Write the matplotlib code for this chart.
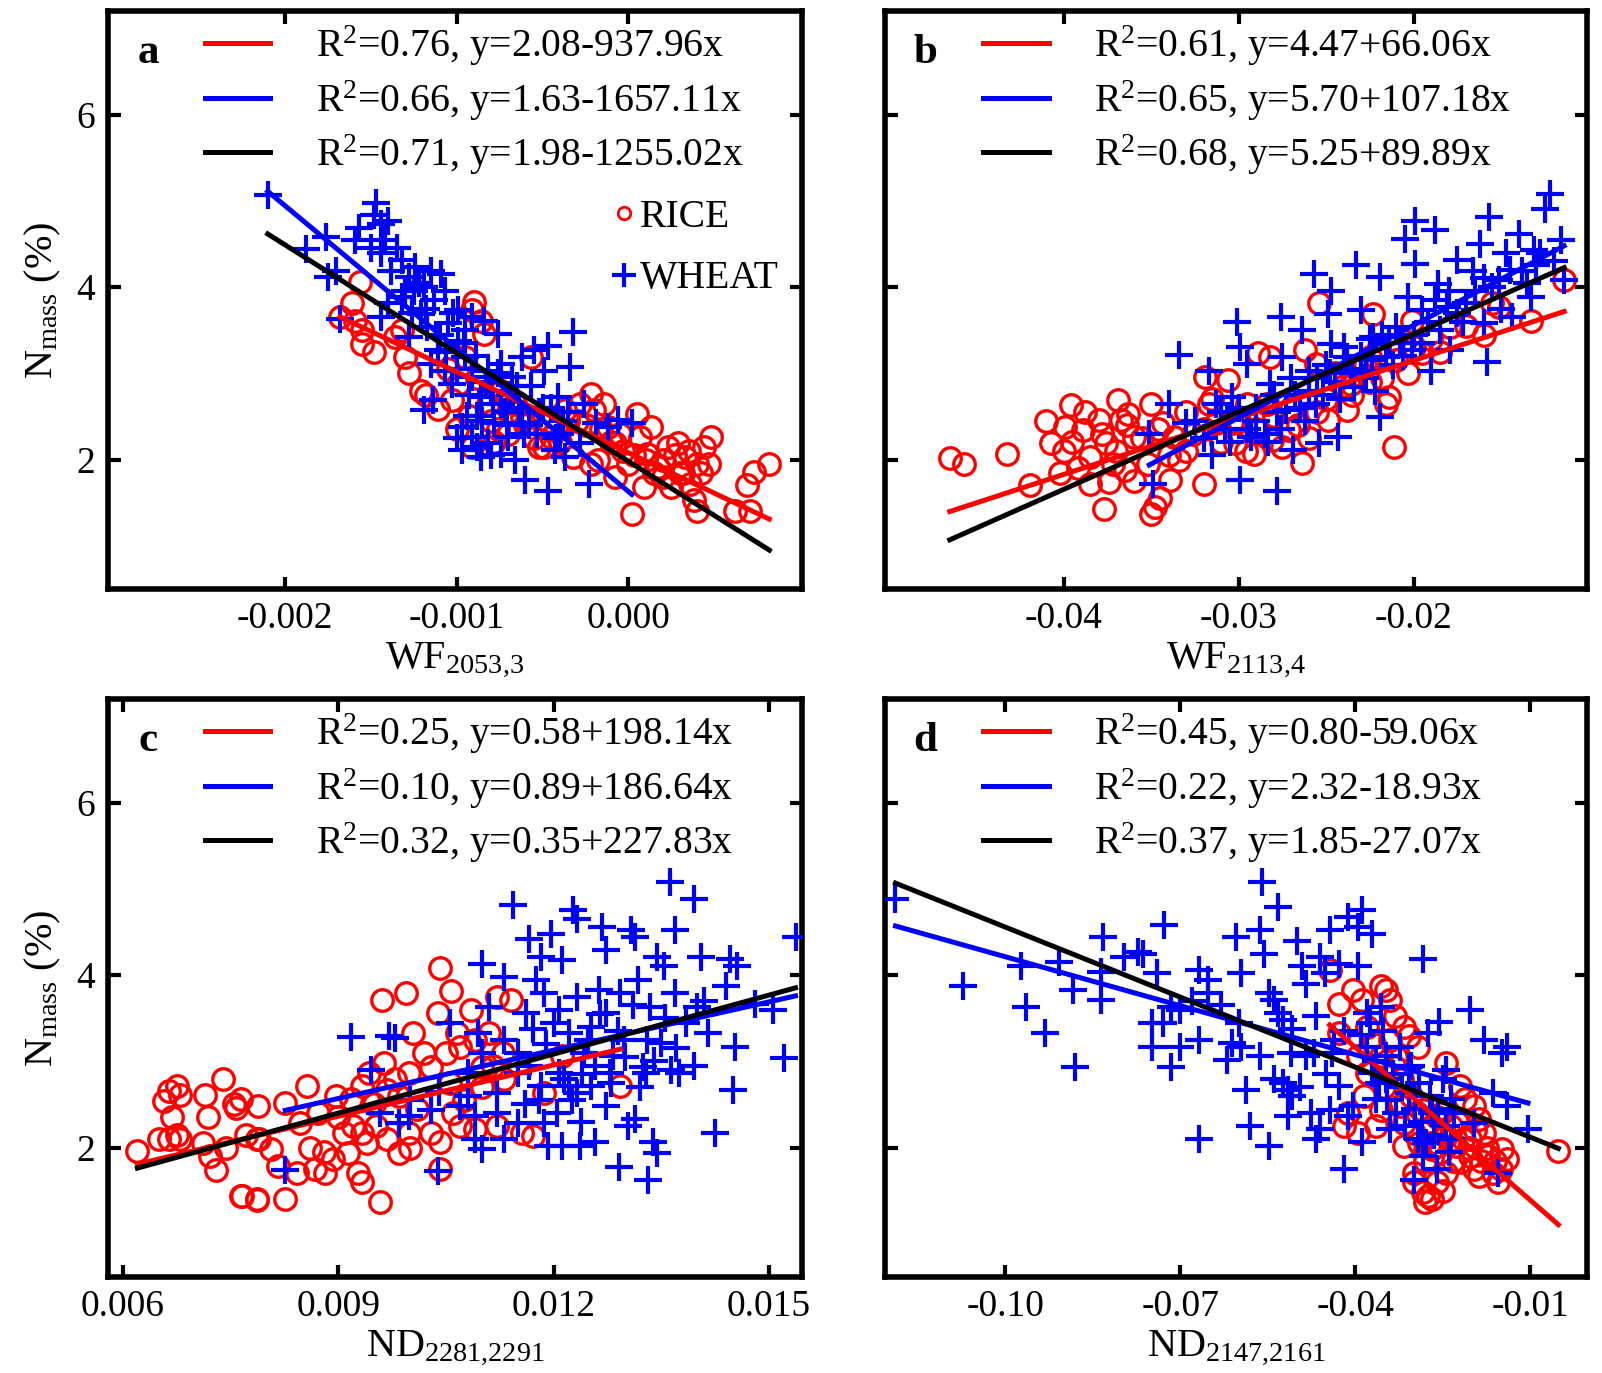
import matplotlib
matplotlib.use("Agg")
import matplotlib.pyplot as plt
from matplotlib.lines import Line2D

plt.rcParams['font.family'] = ['Liberation Serif', 'DejaVu Serif']
plt.rcParams['mathtext.fontset'] = 'custom'
plt.rcParams['mathtext.rm'] = 'Liberation Serif'
plt.rcParams['mathtext.it'] = 'Liberation Serif:italic'
plt.rcParams['mathtext.bf'] = 'Liberation Serif:bold'

RED = '#ff0000'
BLUE = '#0000ff'

# ---- panel a : WF 2053,3 ----
a_rice_x = [-0.00168, -0.00161, -0.00156, -0.00159, -0.00155, -0.00155, -0.00148, -0.00136, -0.00132,
            -0.00130, -0.00128, -0.00121, -0.00111, -0.00103, -0.00099, -0.00095, -0.00090, -0.00091,
            -0.00086, -0.00084, -0.00091, -0.00082, -0.00074, -0.00066, -0.00057, -0.00062, -0.00049,
            -0.00045, -0.00037, -0.00028, -0.00022, -0.00020, -0.00014, -0.00012, -0.00008, -0.00008,
            0.00000, 0.00002, 0.00005, 0.00007, 0.00013, 0.00011, 0.00017, 0.00023, 0.00029, 0.00033,
            0.00036, 0.00038, 0.00040, 0.00044, 0.00047, 0.00040, 0.00048, 0.00062, 0.00071, 0.00069,
            0.00073, 0.00082, 0.00009, 0.00025, -0.00022, -0.00032, -0.00118, -0.00105, -0.00078,
            -0.00070, -0.00052, -0.00040, -0.00030, -0.00018, -0.00005, 0.00020, 0.00030,
            -0.00080, -0.00076, -0.00068, -0.00060, -0.00055, -0.00047, -0.00042, -0.00035, -0.00025,
            -0.00016, -0.00010, -0.00003, 0.00003, 0.00010, 0.00015, 0.00020, 0.00027, 0.00032, 0.00042,
            0.00035, -0.00088, -0.00093, -0.00100]
a_rice_y = [3.65, 3.81, 4.06, 3.61, 3.50, 3.34, 3.25, 3.42, 3.50,
            3.19, 3.00, 2.80, 2.59, 2.69, 2.88, 3.19, 3.83, 3.73,
            3.61, 3.46, 2.15, 2.65, 2.80, 2.65, 3.19, 2.49, 2.15,
            2.26, 2.57, 2.65, 2.76, 2.57, 2.65, 2.38, 2.19, 1.80,
            1.95, 1.37, 2.53, 2.26, 2.38, 2.07, 1.92, 2.15, 2.19, 2.03,
            1.72, 1.53, 1.41, 2.15, 1.95, 1.95, 2.26, 1.41, 1.41, 1.70,
            1.86, 1.95, 1.68, 1.68, 1.95, 2.03, 2.75, 3.05, 2.20,
            2.30, 2.15, 2.20, 2.45, 2.00, 2.30, 2.00, 1.85,
            2.45, 2.35, 2.55, 2.40, 2.25, 2.45, 2.35, 2.45, 2.40,
            2.35, 2.20, 2.10, 2.05, 2.00, 1.85, 1.80, 2.05, 1.85, 1.85,
            2.10, 2.95, 2.50, 2.35]
a_wheat_x = [-0.00210, -0.00188, -0.00176, -0.00175, -0.00170, -0.00168, -0.00159, -0.00157, -0.00148,
             -0.00147, -0.00144, -0.00140, -0.00142, -0.00144, -0.00138, -0.00132, -0.00128, -0.00124,
             -0.00119, -0.00115, -0.00109, -0.00107, -0.00144, -0.00140, -0.00132, -0.00128, -0.00121,
             -0.00117, -0.00119, -0.00114, -0.00115, -0.00111, -0.00105, -0.00099, -0.00095, -0.00091,
             -0.00084, -0.00076, -0.00095, -0.00091, -0.00097, -0.00097, -0.00091, -0.00086, -0.00082,
             -0.00074, -0.00070, -0.00066, -0.00078, -0.00074, -0.00068, -0.00062, -0.00055, -0.00047,
             -0.00032, -0.00034, -0.00049, -0.00060, -0.00047, -0.00023, -0.00041, -0.00026, -0.00062,
             -0.00053, -0.00043, -0.00037, -0.00028, -0.00019, -0.00012, -0.00006, 0.00002, -0.00086,
             -0.00103, -0.00107, -0.00082, -0.00074, -0.00099, -0.00088, -0.00080, -0.00072, -0.00065,
             -0.00058, -0.00050, -0.00040, -0.00035,
             -0.00130, -0.00126, -0.00122, -0.00118, -0.00113, -0.00110, -0.00106, -0.00102, -0.00100,
             -0.00096, -0.00093, -0.00089, -0.00085, -0.00083, -0.00079, -0.00076, -0.00071, -0.00069,
             -0.00064, -0.00061, -0.00057, -0.00052, -0.00045, -0.00042, -0.00038, -0.00100, -0.00094,
             -0.00088, -0.00080, -0.00150, -0.00135, -0.00125]
a_wheat_y = [5.07, 4.44, 4.58, 4.12, 4.19, 3.63, 4.54, 4.68, 4.83,
             4.97, 4.73, 4.77, 4.54, 4.39, 4.19, 4.31, 4.12, 4.23,
             4.00, 4.19, 4.15, 3.96, 3.65, 3.81, 3.88, 3.42, 3.69,
             3.54, 2.57, 2.69, 3.11, 3.27, 3.58, 3.73, 3.50, 3.65,
             3.61, 3.46, 3.19, 2.96, 2.38, 2.11, 2.26, 2.03, 2.19,
             2.07, 2.26, 1.99, 2.42, 2.65, 2.96, 3.19, 3.27, 3.32,
             3.48, 3.07, 3.03, 1.76, 1.64, 1.72, 2.73, 2.65, 2.42,
             2.30, 2.11, 2.03, 2.19, 2.42, 2.38, 2.46, 2.42, 2.73,
             2.88, 3.03, 3.03, 3.11, 3.38, 2.50, 2.80, 2.55, 2.85,
             2.40, 2.60, 2.30, 2.55,
             3.95, 3.70, 4.05, 3.75, 3.85, 3.45, 3.25, 3.70, 3.05,
             3.35, 2.75, 3.20, 2.45, 2.90, 2.65, 3.00, 2.40, 2.75,
             2.60, 2.30, 2.85, 2.55, 2.60, 2.25, 2.45, 2.25, 2.50,
             2.15, 2.05, 4.45, 4.45, 3.95]
a_r2 = [0.76, 0.66, 0.71]
a_b0 = [2.08, 1.63, 1.98]
a_b1 = [-937.96, -1657.11, -1255.02]

# ---- panel b : WF 2113,4 ----
b_rice_x = [-0.0465, -0.0457, -0.0432, -0.0419, -0.0407, -0.0396, -0.0399, -0.0402, -0.0389, -0.0385,
            -0.0380, -0.0376, -0.0369, -0.0367, -0.0363, -0.0377, -0.0385, -0.0374, -0.0365, -0.0360,
            -0.0350, -0.0350, -0.0348, -0.0345, -0.0339, -0.0334, -0.0337, -0.0343, -0.0326, -0.0320,
            -0.0319, -0.0317, -0.0306, -0.0313, -0.0302, -0.0295, -0.0289, -0.0282, -0.0291, -0.0281,
            -0.0271, -0.0264, -0.0262, -0.0256, -0.0254, -0.0249, -0.0238, -0.0236, -0.0225, -0.0223,
            -0.0216, -0.0214, -0.0211, -0.0203, -0.0201, -0.0195, -0.0179, -0.0155, -0.0151, -0.0133,
            -0.0114, -0.0304, -0.0330, -0.0320, -0.0310, -0.0300, -0.0290, -0.0280, -0.0275, -0.0270,
            -0.0260, -0.0250, -0.0245, -0.0240, -0.0232, -0.0225, -0.0220, -0.0210, -0.0200, -0.0190,
            -0.0185, -0.0170, -0.0160, -0.0410, -0.0400, -0.0392, -0.0370, -0.0360, -0.0355, -0.0340,
            -0.0395, -0.0388, -0.0378, -0.0372, -0.0364, -0.0352, -0.0346, -0.0330, -0.0315, -0.0296,
            -0.0284, -0.0266, -0.0255, -0.0235, -0.0228, -0.0218]
b_rice_y = [2.02, 1.95, 2.07, 1.70, 2.19, 2.63, 2.38, 1.84, 2.34, 2.03,
            2.46, 2.19, 2.69, 2.46, 2.53, 1.43, 1.72, 1.74, 1.88, 2.26,
            2.65, 1.37, 1.45, 1.56, 1.76, 1.99, 2.26, 2.42, 2.30, 1.72,
            2.96, 2.65, 2.92, 2.42, 2.19, 2.65, 3.23, 3.19, 2.07, 2.23,
            2.34, 1.96, 3.27, 3.11, 3.81, 2.46, 2.57, 2.88, 3.19, 3.69,
            2.65, 2.73, 2.15, 3.00, 3.61, 3.23, 3.54, 3.81, 3.77, 3.61,
            4.08, 2.42, 2.10, 2.35, 2.20, 2.45, 2.35, 2.50, 2.15, 2.60,
            2.25, 2.70, 3.00, 2.85, 3.05, 2.90, 3.30, 3.15, 3.30, 3.40,
            3.25, 3.55, 3.45, 2.45, 2.10, 1.90, 2.10, 1.75, 2.25, 2.05,
            2.20, 2.55, 2.30, 1.95, 2.40, 1.95, 2.35, 2.55, 2.70, 2.10,
            2.65, 2.40, 2.55, 2.75, 3.10, 2.95]
b_wheat_x = [-0.0334, -0.0351, -0.0349, -0.0340, -0.0330, -0.0317, -0.0313, -0.0304, -0.0301, -0.0299,
             -0.0299, -0.0295, -0.0293, -0.0282, -0.0278, -0.0276, -0.0275, -0.0273, -0.0269, -0.0264,
             -0.0260, -0.0257, -0.0256, -0.0254, -0.0249, -0.0247, -0.0247, -0.0243, -0.0238, -0.0234,
             -0.0233, -0.0230, -0.0227, -0.0223, -0.0219, -0.0219, -0.0216, -0.0210, -0.0205, -0.0203,
             -0.0201, -0.0199, -0.0199, -0.0195, -0.0190, -0.0188, -0.0186, -0.0181, -0.0179, -0.0175,
             -0.0170, -0.0166, -0.0162, -0.0160, -0.0158, -0.0157, -0.0151, -0.0147, -0.0144, -0.0140,
             -0.0138, -0.0133, -0.0131, -0.0125, -0.0122, -0.0116, -0.0114, -0.0310, -0.0305, -0.0290,
             -0.0285, -0.0280, -0.0270, -0.0265, -0.0260, -0.0255, -0.0250, -0.0245, -0.0240, -0.0235,
             -0.0230, -0.0225, -0.0222, -0.0218, -0.0212, -0.0208, -0.0200, -0.0192, -0.0185, -0.0175,
             -0.0165, -0.0155, -0.0145, -0.0130, -0.0325, -0.0300, -0.0295, -0.0278,
             -0.0320, -0.0315, -0.0308, -0.0290, -0.0283, -0.0276, -0.0268, -0.0262, -0.0252, -0.0248,
             -0.0242, -0.0236, -0.0228, -0.0224, -0.0214, -0.0206, -0.0196, -0.0188, -0.0180, -0.0172,
             -0.0160, -0.0150, -0.0135, -0.0128, -0.0120]
b_wheat_y = [3.21, 2.30, 1.72, 2.65, 2.42, 3.03, 2.65, 2.73, 3.59, 1.76,
             3.30, 3.11, 2.26, 2.88, 1.64, 3.65, 3.19, 2.57, 2.11, 3.50,
             3.03, 4.15, 2.65, 2.19, 3.69, 3.34, 3.96, 2.26, 3.19, 2.84,
             4.25, 3.73, 3.03, 3.42, 4.12, 2.49, 3.19, 3.54, 4.56, 3.88,
             3.27, 4.77, 4.27, 3.73, 3.03, 4.66, 4.04, 3.77, 3.27, 4.31,
             3.81, 4.19, 4.50, 3.58, 3.13, 4.81, 4.08, 4.39, 3.65, 4.62,
             4.19, 3.88, 4.43, 4.91, 5.08, 4.54, 4.08, 2.55, 2.20, 2.45,
             2.30, 2.75, 2.95, 2.60, 2.80, 2.95, 3.10, 2.90, 3.30, 3.00,
             3.20, 3.40, 2.80, 3.45, 3.10, 3.35, 3.45, 3.60, 3.50, 3.70,
             3.95, 4.00, 4.20, 4.25, 2.45, 2.60, 2.35, 2.55,
             2.25, 2.05, 2.35, 2.60, 2.20, 2.35, 2.75, 2.45, 2.75, 3.00,
             2.70, 3.05, 2.95, 3.15, 3.35, 3.20, 3.35, 3.85, 3.95, 3.60,
             4.10, 3.75, 4.05, 4.40, 4.30]
b_r2 = [0.61, 0.65, 0.68]
b_b0 = [4.47, 5.70, 5.25]
b_b1 = [66.06, 107.18, 89.89]

# ---- panel c : ND 2281,2291 ----
c_rice_x = [0.01042, 0.00961, 0.00994, 0.01057, 0.01039, 0.01085, 0.01121, 0.01141, 0.01065, 0.01004,
            0.01019, 0.00963, 0.00943, 0.00857, 0.00826, 0.00788, 0.00765, 0.00897, 0.00918, 0.00933,
            0.00968, 0.00979, 0.00999, 0.01029, 0.01050, 0.01070, 0.01090, 0.01110, 0.00786, 0.00806,
            0.00816, 0.00826, 0.00786, 0.00766, 0.00842, 0.00867, 0.00882, 0.00892, 0.00913, 0.00928,
            0.00933, 0.00958, 0.00908, 0.00933, 0.00953, 0.00968, 0.00984, 0.00999, 0.01029, 0.01042,
            0.01042, 0.01070, 0.01090, 0.01121, 0.01156, 0.01171, 0.01293, 0.01187, 0.01212, 0.01100,
            0.01131, 0.00872, 0.00847, 0.00620, 0.00657, 0.00664, 0.00675, 0.00679, 0.00668, 0.00664,
            0.00679, 0.00650, 0.00675, 0.00714, 0.00718, 0.00711, 0.00721, 0.00729, 0.00739, 0.00754,
            0.00757, 0.00743, 0.00764, 0.00786, 0.00789, 0.00771,
            0.00900, 0.00950, 0.00985, 0.01010, 0.01055, 0.01075, 0.01100, 0.00860, 0.00880, 0.00940,
            0.01000, 0.01060, 0.01115, 0.01130, 0.00920]
c_rice_y = [4.08, 3.71, 3.79, 3.81, 3.56, 3.60, 3.75, 3.71, 3.33, 3.33,
            3.10, 2.98, 2.87, 2.71, 2.52, 2.48, 2.56, 2.60, 2.56, 2.71,
            2.67, 2.79, 2.87, 2.94, 3.10, 3.17, 3.25, 3.33, 2.10, 1.98,
            1.79, 1.40, 1.40, 1.44, 1.71, 1.75, 1.71, 1.87, 1.94, 1.71,
            1.60, 1.37, 2.17, 2.17, 2.25, 2.10, 1.94, 2.17, 2.17, 2.06,
            1.75, 2.25, 2.21, 2.25, 2.17, 2.13, 2.71, 2.63, 3.06, 2.94,
            2.79, 2.40, 2.29, 1.96, 2.54, 2.66, 2.71, 2.61, 2.36, 2.10,
            2.10, 2.10, 2.15, 2.61, 2.36, 2.05, 1.90, 1.74, 2.79, 2.51,
            2.46, 2.00, 1.44, 1.39, 2.10, 2.15,
            2.35, 2.50, 2.60, 2.45, 2.75, 2.55, 2.70, 2.00, 1.95, 2.05,
            2.00, 2.40, 2.95, 3.10, 2.25]
c_wheat_x = [0.00918, 0.00971, 0.00979, 0.00946, 0.00826, 0.01039, 0.01143, 0.01100, 0.01131, 0.01227,
             0.01233, 0.01197, 0.01166, 0.01268, 0.01308, 0.01313, 0.01369, 0.01362, 0.01395, 0.01537,
             0.01273, 0.01212, 0.01182, 0.01344, 0.01354, 0.01405, 0.01446, 0.01456, 0.01318, 0.01263,
             0.01233, 0.01176, 0.01187, 0.01293, 0.01369, 0.01440, 0.01481, 0.01506, 0.01400, 0.01334,
             0.01273, 0.01207, 0.01161, 0.01110, 0.01055, 0.01095, 0.01131, 0.01171, 0.01222, 0.01252,
             0.01298, 0.01349, 0.01415, 0.01453, 0.01521, 0.01450, 0.01425, 0.01374, 0.01324, 0.01283,
             0.01242, 0.01207, 0.01182, 0.01151, 0.01121, 0.01100, 0.01080, 0.01070, 0.01029, 0.00999,
             0.00984, 0.00958, 0.01090, 0.01121, 0.01151, 0.01187, 0.01222, 0.01233, 0.01252, 0.01273,
             0.01313, 0.01329, 0.01364, 0.01090, 0.01100, 0.01131, 0.01192, 0.01212, 0.01237, 0.01257,
             0.01338, 0.01344, 0.01291, 0.01331, 0.01303, 0.01278,
             0.01150, 0.01165, 0.01190, 0.01200, 0.01215, 0.01225, 0.01240, 0.01248, 0.01258, 0.01265,
             0.01280, 0.01290, 0.01300, 0.01310, 0.01320, 0.01330, 0.01340, 0.01355, 0.01370, 0.01385,
             0.01395, 0.01410, 0.01180, 0.01205, 0.01238, 0.01160, 0.01080, 0.01040, 0.01000]
c_wheat_y = [3.28, 3.29, 3.27, 2.90, 1.74, 1.73, 4.81, 4.13, 3.98, 4.75,
             4.65, 4.48, 4.42, 4.56, 4.52, 4.44, 4.52, 5.08, 4.88, 4.44,
             4.29, 4.17, 4.21, 4.21, 4.10, 4.21, 4.19, 4.10, 3.94, 3.83,
             3.75, 3.94, 3.79, 3.79, 3.79, 3.87, 3.67, 3.60, 3.63, 3.63,
             3.56, 3.60, 3.56, 3.63, 3.44, 3.33, 3.25, 3.37, 3.33, 3.40,
             3.25, 3.21, 3.33, 3.17, 3.04, 2.67, 2.17, 2.87, 2.94, 3.06,
             3.10, 2.87, 2.71, 2.87, 2.63, 3.10, 2.87, 2.48, 2.44, 2.37,
             2.29, 2.40, 2.37, 2.40, 2.29, 2.29, 2.71, 2.63, 2.71, 2.48,
             2.33, 2.87, 2.90, 2.10, 1.98, 2.10, 2.02, 2.02, 2.02, 2.06,
             2.06, 1.94, 1.77, 1.63, 2.25, 2.87,
             3.10, 2.95, 3.20, 3.45, 2.80, 2.55, 2.85, 3.25, 2.95, 3.55,
             2.75, 3.35, 3.05, 3.65, 2.70, 3.25, 3.00, 3.50, 3.15, 3.45,
             2.95, 3.70, 2.55, 2.40, 2.30, 2.50, 2.60, 2.65, 2.55]
c_r2 = [0.25, 0.10, 0.32]
c_b0 = [0.58, 0.89, 0.35]
c_b1 = [198.14, 186.64, 227.83]

# ---- panel d : ND 2147,2161 ----
d_rice_x = [-0.0348, -0.0356, -0.0340, -0.0404, -0.0428, -0.0388, -0.0332, -0.0444, -0.0428, -0.0380,
            -0.0316, -0.0308, -0.0396, -0.0380, -0.0356, -0.0332, -0.0292, -0.0244, -0.0412, -0.0420,
            -0.0396, -0.0364, -0.0356, -0.0324, -0.0316, -0.0300, -0.0284, -0.0268, -0.0252, -0.0236,
            -0.0220, -0.0212, -0.0196, -0.0188, -0.0180, -0.0204, -0.0228, -0.0268, -0.0316, -0.0300,
            -0.0300, -0.0284, -0.0280, -0.0268, -0.0276, -0.0244, -0.0220, -0.0196, -0.0188, -0.0164,
            -0.0156, -0.0172, -0.0148, -0.0140, -0.0052, -0.0204, -0.0244,
            -0.0340, -0.0330, -0.0320, -0.0305, -0.0295, -0.0290, -0.0280, -0.0272, -0.0260, -0.0255,
            -0.0248, -0.0232, -0.0225, -0.0215, -0.0205, -0.0195, -0.0185, -0.0175, -0.0160, -0.0150,
            -0.0260, -0.0250, -0.0368, -0.0350, -0.0385]
d_rice_y = [3.83, 3.87, 3.71, 3.83, 3.67, 3.71, 3.52, 4.06, 3.33, 3.40,
            3.40, 3.29, 3.06, 2.87, 3.06, 2.94, 3.17, 2.98, 2.40, 2.25,
            2.17, 2.25, 2.44, 2.48, 2.29, 2.17, 2.44, 2.25, 2.40, 2.25,
            2.71, 2.56, 2.48, 2.33, 2.17, 2.10, 2.02, 1.98, 2.02, 1.71,
            1.60, 1.48, 1.37, 1.40, 1.44, 1.71, 1.83, 1.75, 1.67, 1.71,
            1.60, 1.90, 1.98, 1.87, 1.96, 1.90, 2.13,
            3.25, 3.05, 2.80, 2.60, 2.40, 2.05, 1.85, 2.05, 2.35, 1.95,
            2.15, 1.85, 2.30, 2.10, 2.00, 2.20, 1.85, 2.00, 1.85, 1.75,
            1.60, 1.50, 3.20, 2.70, 2.60]
d_wheat_x = [-0.1188, -0.1072, -0.0972, -0.0964, -0.0932, -0.0908, -0.0880, -0.0884, -0.0836, -0.0832,
             -0.0836, -0.0796, -0.0772, -0.0764, -0.0748, -0.0740, -0.0728, -0.0748, -0.0716, -0.0716,
             -0.0700, -0.0668, -0.0668, -0.0652, -0.0652, -0.0668, -0.0620, -0.0612, -0.0604, -0.0596,
             -0.0596, -0.0588, -0.0580, -0.0564, -0.0560, -0.0556, -0.0564, -0.0548, -0.0540, -0.0532,
             -0.0532, -0.0524, -0.0548, -0.0524, -0.0516, -0.0508, -0.0516, -0.0508, -0.0500, -0.0492,
             -0.0484, -0.0484, -0.0476, -0.0468, -0.0468, -0.0460, -0.0452, -0.0444, -0.0436, -0.0428,
             -0.0428, -0.0420, -0.0412, -0.0404, -0.0396, -0.0396, -0.0388, -0.0388, -0.0372, -0.0380,
             -0.0380, -0.0372, -0.0364, -0.0356, -0.0348, -0.0340, -0.0324, -0.0308, -0.0300, -0.0292,
             -0.0284, -0.0276, -0.0268, -0.0260, -0.0256, -0.0244, -0.0236, -0.0204, -0.0180, -0.0164,
             -0.0156, -0.0148, -0.0140, -0.0140, -0.0104, -0.0284, -0.0236, -0.0196, -0.0308, -0.0348,
             -0.0412, -0.0460, -0.0444,
             -0.0390, -0.0375, -0.0365, -0.0360, -0.0352, -0.0345, -0.0335, -0.0330, -0.0320, -0.0315,
             -0.0305, -0.0298, -0.0290, -0.0285, -0.0278, -0.0272, -0.0265, -0.0258, -0.0250, -0.0245,
             -0.0240, -0.0230, -0.0420, -0.0440, -0.0450, -0.0470, -0.0495, -0.0510, -0.0540, -0.0600,
             -0.0630, -0.0680, -0.0700, -0.0730]
d_wheat_y = [4.88, 3.87, 4.10, 3.63, 3.33, 4.15, 2.94, 3.83, 3.71, 4.44,
             4.04, 4.21, 4.27, 4.25, 3.44, 4.02, 4.58, 3.17, 3.63, 2.94,
             3.17, 3.25, 4.06, 3.94, 3.79, 2.10, 3.02, 3.21, 4.44, 4.02,
             3.17, 2.67, 2.25, 4.52, 5.08, 4.25, 3.06, 3.79, 3.71, 4.79,
             3.56, 3.48, 2.02, 2.75, 2.67, 2.60, 2.37, 3.37, 4.40, 4.10,
             3.90, 3.06, 2.40, 2.10, 3.52, 4.21, 4.02, 4.52, 3.25, 2.71,
             4.13, 1.75, 4.67, 2.48, 4.56, 4.10, 4.75, 2.06, 4.48, 3.56,
             3.17, 2.87, 2.56, 3.63, 3.06, 2.21, 3.17, 2.63, 1.63, 2.10,
             4.19, 3.33, 2.40, 1.75, 3.46, 2.90, 2.56, 3.60, 3.25, 2.63,
             1.71, 3.10, 3.17, 2.48, 2.21, 1.90, 2.10, 2.29, 2.94, 2.79,
             2.37, 2.21, 2.44,
             3.30, 3.45, 3.00, 2.75, 3.35, 2.55, 2.85, 2.40, 2.70, 2.25,
             2.95, 2.45, 2.75, 2.30, 2.05, 2.60, 2.15, 2.45, 2.80, 2.25,
             1.95, 2.40, 3.35, 3.10, 2.85, 3.10, 2.70, 3.10, 2.80, 3.45,
             3.65, 3.70, 3.60, 3.45]
d_r2 = [0.45, 0.22, 0.37]
d_b0 = [0.80, 2.32, 1.85]
d_b1 = [-59.06, -18.93, -27.07]

panels = [
    dict(pos=[0.0674, 0.5710, 0.4332, 0.4210], rx=a_rice_x, ry=a_rice_y, wx=a_wheat_x, wy=a_wheat_y,
         r2=a_r2, b0=a_b0, b1=a_b1, letter='a', xlabel='WF$_{\\mathrm{2053{,}3}}$',
         xlim=(-0.00303, 0.00101), xticks=[-0.002, -0.001, 0.0], xtl=['-0.002', '-0.001', '0.000'], ylab=True),
    dict(pos=[0.5524, 0.5710, 0.4382, 0.4210], rx=b_rice_x, ry=b_rice_y, wx=b_wheat_x, wy=b_wheat_y,
         r2=b_r2, b0=b_b0, b1=b_b1, letter='b', xlabel='WF$_{\\mathrm{2113{,}4}}$',
         xlim=(-0.0502, -0.0101), xticks=[-0.04, -0.03, -0.02], xtl=['-0.04', '-0.03', '-0.02'], ylab=False),
    dict(pos=[0.0674, 0.0699, 0.4332, 0.4210], rx=c_rice_x, ry=c_rice_y, wx=c_wheat_x, wy=c_wheat_y,
         r2=c_r2, b0=c_b0, b1=c_b1, letter='c', xlabel='ND$_{\\mathrm{2281{,}2291}}$',
         xlim=(0.00579, 0.01546), xticks=[0.006, 0.009, 0.012, 0.015],
         xtl=['0.006', '0.009', '0.012', '0.015'], ylab=True),
    dict(pos=[0.5524, 0.0699, 0.4382, 0.4210], rx=d_rice_x, ry=d_rice_y, wx=d_wheat_x, wy=d_wheat_y,
         r2=d_r2, b0=d_b0, b1=d_b1, letter='d', xlabel='ND$_{\\mathrm{2147{,}2161}}$',
         xlim=(-0.1206, -0.0003), xticks=[-0.10, -0.07, -0.04, -0.01],
         xtl=['-0.10', '-0.07', '-0.04', '-0.01'], ylab=False),
]

fig = plt.figure(figsize=(16.02, 13.73), dpi=100)

for p in panels:
    ax = fig.add_axes(p['pos'])
    ax.plot(p['rx'], p['ry'], 'o', ms=15.5, mfc='none', mec=RED, mew=2.4, zorder=2)
    ax.plot(p['wx'], p['wy'], '+', ms=20, mec=BLUE, mew=3, zorder=3)

    # regression lines over each group's x range
    allx = p['rx'] + p['wx']
    ranges = [(min(p['rx']), max(p['rx'])), (min(p['wx']), max(p['wx'])), (min(allx), max(allx))]
    handles, labels = [], []
    for (x0, x1), b0, b1, r2, col in zip(ranges, p['b0'], p['b1'], p['r2'], [RED, BLUE, 'black']):
        ln, = ax.plot([x0, x1], [b0 + b1 * x0, b0 + b1 * x1], color=col, lw=3.6, zorder=4)
        sign = '+' if b1 >= 0 else '-'
        handles.append(ln)
        labels.append('R$^{2}$=%.2f, y=%.2f%s%.2fx' % (r2, b0, sign, abs(b1)))
    leg = ax.legend(handles, labels, loc='upper left', bbox_to_anchor=(0.14, 0.978), frameon=False,
                    fontsize=28.5, handlelength=1.65, handletextpad=1.15, labelspacing=0.25,
                    borderaxespad=0, borderpad=0)
    if p['letter'] == 'a':
        ax.add_artist(leg)
        mk = [Line2D([], [], ls='none', marker='o', ms=9, mfc='none', mec=RED, mew=2),
              Line2D([], [], ls='none', marker='+', ms=17, mec=BLUE, mew=3)]
        ax.legend(mk, ['RICE', 'WHEAT'], loc='upper left', bbox_to_anchor=(0.73, 0.675), frameon=False,
                  fontsize=28.5, handlelength=0.5, handletextpad=0.15, labelspacing=0.62,
                  borderaxespad=0, borderpad=0)

    ax.text(0.058, 0.927, p['letter'], transform=ax.transAxes, fontsize=31, fontweight='bold',
            ha='center', va='center')

    ax.set_xlim(*p['xlim'])
    ax.set_ylim(0.5, 7.2)
    ax.set_xticks(p['xticks'])
    ax.set_xticklabels(p['xtl'])
    ax.set_yticks([2, 4, 6])
    ax.tick_params(direction='in', length=9, width=3, top=True, right=True, labelsize=27, pad=9)
    if p['ylab']:
        ax.set_ylabel('N$_{\\mathrm{mass}}$ (%)', fontsize=29, labelpad=10)
    else:
        ax.set_yticklabels([])
    ax.set_xlabel(p['xlabel'], fontsize=29, labelpad=3)
    for s in ax.spines.values():
        s.set_linewidth(4)

fig.savefig('out.png', dpi=100)
